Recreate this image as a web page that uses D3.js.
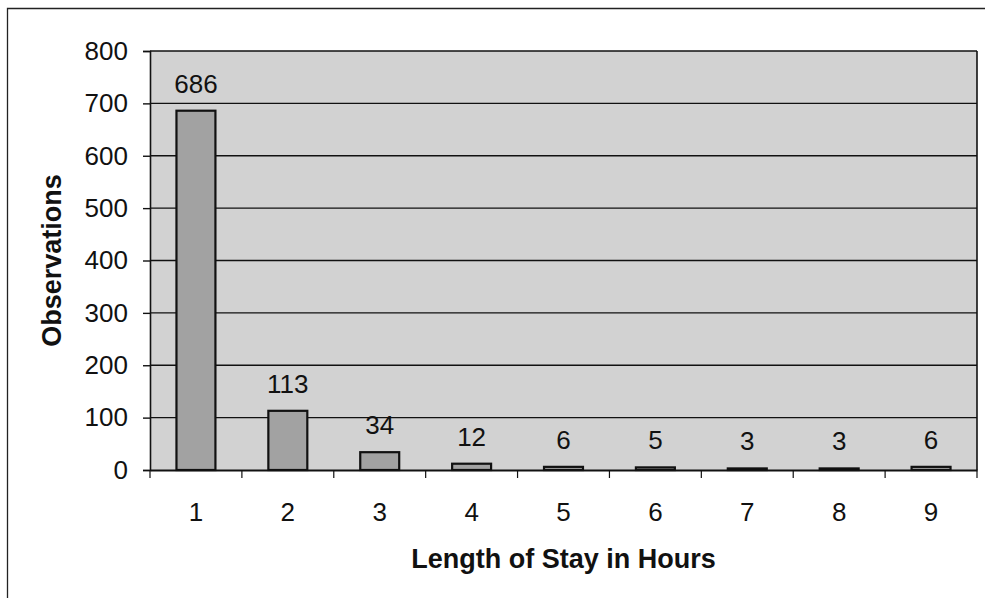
<!DOCTYPE html>
<html>
<head>
<meta charset="utf-8">
<script src="https://cdn.jsdelivr.net/npm/d3@7"></script>
<style>
  html, body { margin: 0; padding: 0; background: #ffffff; }
  svg { display: block; font-family: "Liberation Sans", Arial, sans-serif; }
</style>
</head>
<body>
<svg id="chart" width="985" height="598"></svg>
<script>
// Hours of stay and how many observations fell in each
const hours = ["1", "2", "3", "4", "5", "6", "7", "8", "9"];
const observations = [686, 113, 34, 12, 6, 5, 3, 3, 6];
const yTicks = [0, 100, 200, 300, 400, 500, 600, 700, 800];

const svg = d3.select("#chart");
const plot = { left: 150, right: 977, top: 51, bottom: 470 };

const x = d3.scaleBand()
  .domain(hours)
  .range([plot.left, plot.right])
  .paddingInner(0.576)
  .paddingOuter(0.288);

const y = d3.scaleLinear()
  .domain([0, 800])
  .range([plot.bottom, plot.top]);

// outer frame
svg.append("path")
  .attr("d", `M7.5,600 L7.5,8.5 L990,8.5`)
  .attr("fill", "none")
  .attr("stroke", "#222")
  .attr("stroke-width", 1.3);

// plot area background
svg.append("rect")
  .attr("x", plot.left).attr("y", plot.top)
  .attr("width", plot.right - plot.left)
  .attr("height", plot.bottom - plot.top)
  .attr("fill", "#d2d2d2");

// horizontal gridlines
svg.append("g")
  .selectAll("line")
  .data(yTicks.filter(d => d > 0))
  .join("line")
  .attr("x1", plot.left).attr("x2", plot.right)
  .attr("y1", d => y(d)).attr("y2", d => y(d))
  .attr("stroke", "#111")
  .attr("stroke-width", 1.4);

// plot border on the right
svg.append("line")
  .attr("x1", plot.right).attr("x2", plot.right)
  .attr("y1", plot.top).attr("y2", plot.bottom)
  .attr("stroke", "#111").attr("stroke-width", 1.6);

// bars
svg.append("g")
  .selectAll("rect")
  .data(observations)
  .join("rect")
  .attr("x", (d, i) => x(hours[i]))
  .attr("y", d => y(d))
  .attr("width", x.bandwidth())
  .attr("height", d => y(0) - y(d))
  .attr("fill", "#a2a2a2")
  .attr("stroke", "#111")
  .attr("stroke-width", 2.2);

// value labels
svg.append("g")
  .selectAll("text")
  .data(observations)
  .join("text")
  .attr("x", (d, i) => x(hours[i]) + x.bandwidth() / 2)
  .attr("y", d => y(d) - 18)
  .attr("text-anchor", "middle")
  .attr("font-size", 26)
  .attr("fill", "#111")
  .text(d => d);

// y axis
const yAxis = svg.append("g")
  .attr("transform", `translate(${plot.left},0)`)
  .call(d3.axisLeft(y).tickValues(yTicks).tickSize(7).tickPadding(15));
yAxis.select(".domain").attr("stroke", "#111").attr("stroke-width", 1.6);
yAxis.selectAll(".tick line").attr("stroke", "#111").attr("stroke-width", 1.4);
yAxis.selectAll(".tick text")
  .attr("font-size", 26)
  .attr("font-family", "Liberation Sans, Arial, sans-serif")
  .attr("fill", "#111");

// x axis: labels centred on categories, tick marks between them
const xAxis = svg.append("g")
  .attr("transform", `translate(0,${plot.bottom})`)
  .call(d3.axisBottom(x).tickSize(0).tickPadding(33));
xAxis.select(".domain").attr("stroke", "#111").attr("stroke-width", 1.8);
xAxis.selectAll(".tick text")
  .attr("font-size", 26)
  .attr("font-family", "Liberation Sans, Arial, sans-serif")
  .attr("fill", "#111");

const step = x.step();
svg.append("g")
  .selectAll("line")
  .data(d3.range(hours.length + 1))
  .join("line")
  .attr("x1", i => plot.left + i * step)
  .attr("x2", i => plot.left + i * step)
  .attr("y1", plot.bottom)
  .attr("y2", plot.bottom + 8)
  .attr("stroke", "#111")
  .attr("stroke-width", 1.2);

// axis titles
svg.append("text")
  .attr("x", (plot.left + plot.right) / 2)
  .attr("y", 568)
  .attr("text-anchor", "middle")
  .attr("font-size", 27)
  .attr("font-weight", "bold")
  .attr("fill", "#111")
  .text("Length of Stay in Hours");

svg.append("text")
  .attr("transform", `translate(61,${(plot.top + plot.bottom) / 2}) rotate(-90)`)
  .attr("text-anchor", "middle")
  .attr("font-size", 27)
  .attr("font-weight", "bold")
  .attr("fill", "#111")
  .text("Observations");
</script>
</body>
</html>
